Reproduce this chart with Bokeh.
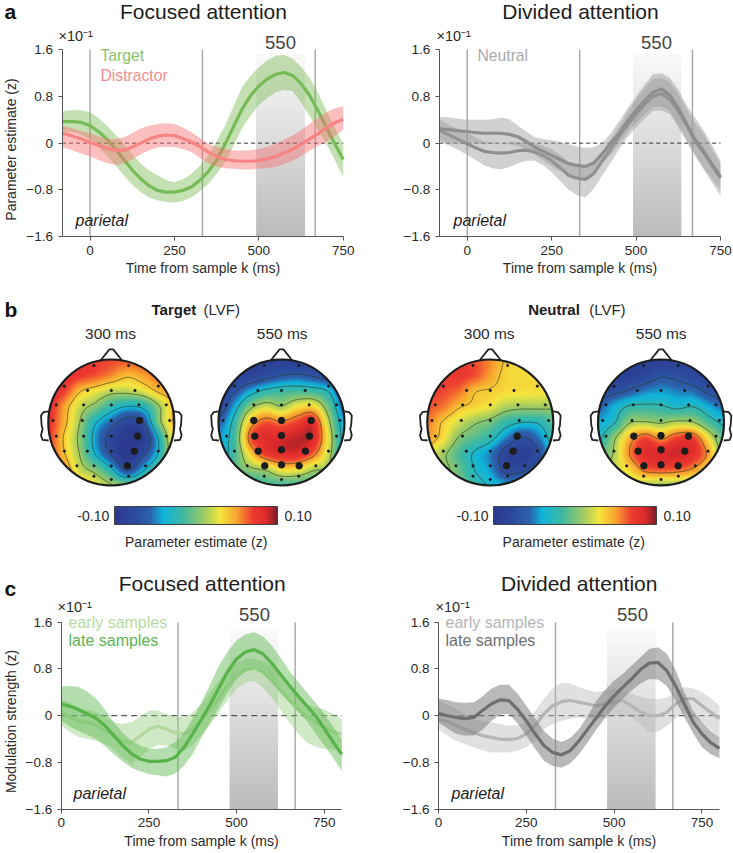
import numpy as np
from bokeh.embed import file_html
from bokeh.layouts import column, row
from bokeh.models import ColorBar, FixedTicker, Label, LinearColorMapper, Range1d
from bokeh.plotting import figure
from bokeh.resources import INLINE

# ---------- time courses ----------
A_T = [-83, -75, -50, -25, 0, 25, 50, 75, 100, 125, 150, 175, 200, 225, 250, 275, 300, 325, 350, 375, 400,
       425, 450, 475, 500, 525, 550, 575, 600, 625, 650, 675, 700, 725, 750]
C_T = [0, 25, 50, 75, 100, 125, 150, 175, 200, 225, 250, 275, 300, 325, 350, 375, 400, 425, 450, 475, 500,
       525, 550, 575, 600, 625, 650, 675, 700, 725, 750, 775, 800]

target_mean = [.38, .37, .37, .355, .3, .2, .07, -.10, -.28, -.46, -.61, -.73, -.81, -.84, -.84, -.81, -.75, -.64,
               -.49, -.29, -.02, .28, .58, .81, .98, 1.10, 1.18, 1.21, 1.16, 1.02, .82, .56, .27, -.01, -.28]
target_up = [.54, .55, .57, .56, .53, .43, .30, .15, -.01, -.19, -.35, -.47, -.55, -.63, -.67, -.62, -.53, -.39,
             -.21, .03, .30, .63, .96, 1.15, 1.30, 1.42, 1.50, 1.51, 1.45, 1.31, 1.13, .87, .56, .27, -.01]
target_lo = [.21, .2, .19, .14, .07, -.06, -.21, -.38, -.55, -.71, -.84, -.93, -.98, -1.01, -1.02, -.99, -.93, -.83,
             -.70, -.53, -.33, -.05, .25, .47, .65, .78, .87, .91, .89, .70, .47, .23, -.01, -.29, -.58]
distractor_mean = [.17, .16, .12, .07, .01, -.04, -.09, -.12, -.12, -.07, 0, .07, .12, .14, .13, .08, .02, -.06,
                   -.15, -.23, -.28, -.3, -.31, -.31, -.3, -.27, -.23, -.17, -.1, -.02, .07, .16, .26, .35, .41]
distractor_up = [.3, .29, .25, .21, .17, .12, .07, .07, .1, .17, .25, .3, .33, .34, .33, .27, .19, .09, -.01, -.06,
                 -.1, -.12, -.13, -.12, -.1, -.06, -.01, .06, .13, .22, .33, .43, .53, .6, .63]
distractor_lo = [-.07, -.08, -.13, -.18, -.23, -.29, -.34, -.37, -.35, -.28, -.19, -.12, -.07, -.06, -.07, -.1, -.15,
                 -.25, -.35, -.4, -.43, -.44, -.45, -.45, -.44, -.43, -.41, -.36, -.3, -.22, -.13, -.05, .02, .12, .23]

neutral1_mean = [.25, .24, .23, .21, .2, .18, .17, .17, .17, .15, .11, .03, -.07, -.14, -.21, -.28, -.35, -.38,
                 -.4, -.34, -.18, .0, .17, .38, .56, .73, .87, .93, .82, .6, .33, .06, -.14, -.36, -.58]
neutral1_up = [.45, .45, .44, .42, .4, .4, .4, .41, .44, .41, .3, .2, .1, .07, .05, .02, -.02, -.06, -.08, -.07,
               0, .17, .38, .6, .8, 1.0, 1.18, 1.2, 1.12, .92, .65, .43, .22, -.03, -.3]
neutral1_lo = [.05, .03, 0, 0, 0, 0, -.02, -.01, 0, -.02, -.05, -.11, -.2, -.3, -.4, -.48, -.55, -.59, -.6, -.52,
               -.35, -.2, -.02, .17, .35, .5, .62, .63, .55, .32, .05, -.2, -.42, -.62, -.8]
neutral2_mean = [.22, .2, .13, .06, -.01, -.08, -.14, -.16, -.17, -.16, -.13, -.12, -.15, -.21, -.3, -.42, -.55, -.6,
                 -.62, -.52, -.3, -.1, .12, .31, .5, .66, .8, .85, .75, .55, .3, .04, -.16, -.38, -.6]
neutral2_up = [.42, .39, .3, .24, .18, .1, .03, .01, 0, .01, .02, .02, 0, -.05, -.1, -.2, -.32, -.37, -.38, -.3,
               -.15, .07, .3, .53, .75, .94, 1.1, 1.12, 1.05, .84, .58, .35, .15, -.1, -.35]
neutral2_lo = [.02, .01, -.05, -.12, -.2, -.29, -.38, -.43, -.45, -.41, -.35, -.3, -.3, -.38, -.5, -.65, -.8, -.89,
               -.93, -.78, -.55, -.33, -.1, .1, .27, .42, .55, .56, .5, .27, .02, -.22, -.45, -.68, -.9]

foc_late = [.2, .16, .1, .03, -.05, -.17, -.34, -.51, -.65, -.74, -.78, -.78, -.77, -.71, -.54, -.31, -.06, .2, .48,
            .76, .97, 1.09, 1.13, 1.06, .9, .71, .52, .34, .17, 0, -.22, -.45, -.66]
foc_late_up = [.5, .51, .49, .41, .29, .1, -.11, -.29, -.43, -.51, -.56, -.57, -.54, -.45, -.29, -.05, .23, .54, .86,
               1.1, 1.29, 1.39, 1.43, 1.36, 1.2, 1.0, .77, .58, .4, .22, .03, -.18, -.4]
foc_late_lo = [-.09, -.19, -.26, -.33, -.4, -.52, -.66, -.78, -.89, -.95, -1.0, -1.02, -1.04, -.99, -.86, -.65, -.37,
               -.11, .14, .4, .63, .75, .8, .72, .57, .4, .23, .07, -.09, -.3, -.51, -.72, -.94]
foc_early = [.06, -.03, -.09, -.11, -.16, -.26, -.34, -.43, -.46, -.35, -.23, -.18, -.23, -.29, -.31, -.23, -.06, .11,
             .31, .53, .7, .79, .8, .74, .6, .43, .26, .11, -.01, -.11, -.21, -.28, -.31]
foc_early_up = [.29, .22, .14, .1, .06, -.02, -.11, -.14, -.11, -.02, .09, .09, .03, -.01, -.03, .06, .2, .4, .6, .78,
                .91, .97, .97, .93, .86, .68, .49, .33, .2, .14, .11, .03, -.06]
foc_early_lo = [-.17, -.28, -.37, -.4, -.43, -.48, -.57, -.72, -.83, -.72, -.57, -.5, -.51, -.56, -.6, -.5, -.34,
                -.15, .06, .27, .46, .57, .6, .48, .31, .1, -.11, -.3, -.46, -.53, -.57, -.58, -.57]

div_late = [.04, 0, -.03, -.05, -.03, .09, .2, .27, .26, .11, -.09, -.31, -.51, -.63, -.67, -.6, -.43, -.23, -.03,
            .17, .34, .49, .63, .79, .9, .91, .77, .51, .2, -.11, -.31, -.46, -.56]
div_late_up = [.29, .27, .23, .22, .23, .33, .46, .53, .53, .38, .17, -.05, -.26, -.39, -.45, -.38, -.23, 0, .26, .45,
               .6, .72, .86, 1.0, 1.14, 1.17, 1.06, .78, .4, .08, -.11, -.26, -.37]
div_late_lo = [-.11, -.22, -.31, -.34, -.34, -.24, -.09, .02, .03, -.13, -.34, -.56, -.77, -.86, -.89, -.82, -.66,
               -.45, -.23, -.03, .14, .29, .43, .55, .63, .62, .51, .25, -.03, -.3, -.54, -.66, -.73]
div_early = [-.06, -.1, -.17, -.23, -.29, -.34, -.37, -.4, -.41, -.39, -.31, -.17, .03, .17, .24, .26, .23, .2, .17,
             .2, .23, .26, .17, .06, 0, 0, .06, .2, .29, .29, .17, .06, -.05]
div_early_up = [.26, .19, .11, .03, -.06, -.09, -.11, -.14, -.17, -.16, -.09, .08, .29, .46, .57, .55, .49, .44, .4,
                .43, .46, .42, .37, .32, .29, .28, .31, .4, .49, .47, .4, .3, .17]
div_early_lo = [-.23, -.34, -.43, -.49, -.54, -.59, -.63, -.63, -.63, -.6, -.54, -.42, -.23, -.14, -.09, -.05, -.03,
                -.04, -.06, -.04, 0, -.01, -.03, -.15, -.29, -.27, -.17, -.05, .06, -.02, -.11, -.24, -.37]

# ---------- scalp maps: values read on a 9x9 lattice across the head, top row first ----------
map_target_300 = [
    [.8, .8, .75, .7, .68, .65, .65, .65, .65],
    [.85, .8, .72, .65, .55, .43, .5, .6, .6],
    [.8, .7, .42, .3, .18, .17, .25, .43, .5],
    [.78, .5, .2, .02, -.22, -.36, -.3, .07, .42],
    [.75, .46, .1, -.33, -.58, -.82, -.72, 0, .42],
    [.72, .38, .04, -.45, -.8, -1, -.95, -.33, .36],
    [.7, .42, .09, -.36, -.72, -1, -.75, -.32, .3],
    [.7, .55, .2, .02, -.3, -.72, -.4, -.05, .2],
    [.7, .6, .42, .28, .12, 0, .05, .1, .2]]
map_target_550 = [
    [-.9, -.9, -.9, -.9, -.9, -.95, -.95, -.9, -.9],
    [-.85, -.85, -.85, -.75, -.65, -.62, -.68, -.78, -.85],
    [-.85, -.68, -.42, -.25, -.18, -.15, -.18, -.32, -.75],
    [-.8, -.42, .03, .22, .12, .3, .35, -.05, -.6],
    [-.6, -.22, .42, .65, .58, .7, .8, .15, -.45],
    [-.45, -.15, .62, .82, .85, .9, .85, .25, -.4],
    [-.45, -.15, .35, .72, .82, .82, .62, .18, -.35],
    [-.4, -.1, .05, .12, .32, .3, .13, .05, -.25],
    [-.35, -.3, -.25, -.15, -.15, -.15, -.15, -.2, -.3]]
map_neutral_300 = [
    [.68, .68, .68, .66, .55, .38, .33, .32, .32],
    [.7, .7, .72, .66, .5, .35, .33, .32, .32],
    [.7, .68, .6, .42, .38, .33, .32, .32, .3],
    [.65, .58, .42, .35, .28, .14, .1, .1, .08],
    [.58, .38, .22, .08, -.02, -.2, -.3, -.28, -.1],
    [.5, .32, .03, -.1, -.23, -.5, -.72, -.55, -.2],
    [.3, .1, -.12, -.33, -.5, -.82, -.92, -.75, -.3],
    [.25, .12, -.05, -.3, -.45, -.78, -.75, -.55, -.3],
    [.2, .1, -.02, -.2, -.33, -.4, -.4, -.35, -.3]]
map_neutral_550 = [
    [-.9, -.9, -.9, -.9, -.9, -.9, -.9, -.9, -.9],
    [-.9, -.9, -.88, -.8, -.68, -.72, -.8, -.88, -.9],
    [-.75, -.72, -.62, -.5, -.45, -.5, -.55, -.7, -.8],
    [-.6, -.4, -.22, -.2, -.22, -.3, -.25, -.4, -.55],
    [-.42, -.28, .08, .12, .08, .15, .12, -.12, -.3],
    [-.3, .05, .45, .68, .52, .7, .72, .3, -.1],
    [-.1, .12, .55, .82, .85, .88, .8, .5, -.02],
    [.05, .18, .35, .6, .65, .62, .52, .3, .05],
    [.1, .15, .18, .12, .08, .1, .1, .1, .1]]

elec_x = [-.275, .275, -.746, .746, -.376, 0, .376, -.873, -.439, 0, .439, .873, -.926, -.46, 0, .46, .926,
          -.873, -.439, 0, .439, .873, -.746, -.381, 0, .381, .746, -.545, -.275, 0, .275, .545, -.275, .275, 0]
elec_y = [.905, .905, .577, .577, .508, .508, .508, .28, .28, .28, .28, .28, .032, .032, .032, .032, .032,
          -.217, -.217, -.217, -.217, -.217, -.455, -.455, -.455, -.455, -.455, -.688, -.688, -.688, -.688, -.688,
          -.852, -.852, -.905]

sig_t300_x = [.45, .418, .365, .254]
sig_t300_y = [.032, -.217, -.455, -.688]
sig_t550_x = [-.44, 0, .47, -.423, 0, .444, -.37, 0, .38, -.265, 0, .28]
sig_t550_y = [.032, .032, .032, -.217, -.207, -.217, -.455, -.434, -.455, -.688, -.672, -.688]
sig_n300_x = [.426, .362, .257]
sig_n300_y = [-.217, -.455, -.688]
sig_n550_x = [-.431, 0, .436, -.362, 0, .378, -.272, 0, .272]
sig_n550_y = [-.217, -.207, -.217, -.455, -.434, -.455, -.688, -.672, -.688]

ear_x = [-.995, -1.074, -1.116, -1.106, -1.09, -1.116, -1.09, -.995]
ear_y = [.175, .164, .11, -.048, -.1, -.206, -.275, -.286]
nose_x = [-.175, -.03, .03, .175]
nose_y = [.98, 1.16, 1.16, .98]

y_ticks = [-1.6, -0.8, 0, 0.8, 1.6]
y_tick_labels = {-1.6: "\u22121.6", -0.8: "\u22120.8", 0: "0", 0.8: "0.8", 1.6: "1.6"}
x_ticks = [0, 250, 500, 750]

FONT = "Liberation Sans"
INK = "#2a2a2a"

# colour scale of the scalp maps
stops = [(0, "#2b3a8f"), (.12, "#2c4a9e"), (.22, "#2b62ad"), (.3, "#0fb4dc"), (.42, "#3fb8a0"), (.55, "#9ecb63"),
         (.65, "#f5e63d"), (.75, "#f9a32f"), (.85, "#ee3b30"), (.93, "#de2a2b"), (1, "#7c1f2a")]
_t = np.linspace(0, 1, 256)
_pos = [s[0] for s in stops]
_rgb = np.array([[int(s[1][i:i + 2], 16) for i in (1, 3, 5)] for s in stops], float)
topo_palette = ["#%02x%02x%02x" % tuple(int(round(np.interp(t, _pos, _rgb[:, k]))) for k in range(3)) for t in _t]
topo_mapper = LinearColorMapper(palette=topo_palette, low=-1, high=1, nan_color="rgba(0,0,0,0)")
window_mapper = LinearColorMapper(
    palette=["#%02x%02x%02x" % (v, v, v) for v in np.linspace(0xbb, 0xfa, 64).astype(int)], low=0, high=1)


def put(fig, bottom, px, py, text, size, color=INK, align="center", style="normal", angle=0):
    """Text at (px, py), measured in pixels from the figure's left edge and the page's top."""
    fig.add_layout(Label(x=px, y=bottom - py, x_units="screen", y_units="screen", text=text,
                         text_font=FONT, text_font_size=f"{size}px", text_color=color, text_align=align,
                         text_baseline="middle", text_font_style=style, angle=angle, angle_units="rad"))


def panel(w, h, left, right, top, bottom, xr, xticks):
    """The frame fills the whole canvas; the axes sit at fixed data locations inside it."""
    sx = (xr[1] - xr[0]) / (w - left - right)
    sy = 3.2 / (h - top - bottom)
    p = figure(width=w, height=h, x_range=Range1d(xr[0] - left * sx, xr[1] + right * sx),
               y_range=Range1d(-1.6 - bottom * sy, 1.6 + top * sy), output_backend="svg",
               toolbar_location=None, min_border=0, background_fill_color=None,
               border_fill_color="white", outline_line_color=None)
    p.grid.visible = False
    for ax in (p.xaxis[0], p.yaxis[0]):
        ax.axis_line_color = "#555555"
        ax.major_tick_line_color = "#555555"
        ax.major_tick_in = 0
        ax.major_tick_out = 4
        ax.minor_tick_line_color = None
        ax.major_label_text_font = FONT
        ax.major_label_text_font_size = "13.5px"
        ax.major_label_text_color = INK
        ax.major_label_standoff = 5
    p.xaxis[0].fixed_location = -1.6
    p.yaxis[0].fixed_location = xr[0]
    p.xaxis[0].bounds = xr
    p.yaxis[0].bounds = (-1.6, 1.6)
    p.xaxis[0].ticker = FixedTicker(ticks=xticks)
    p.yaxis[0].ticker = FixedTicker(ticks=y_ticks)
    p.yaxis[0].major_label_overrides = y_tick_labels
    p.xaxis[0].axis_label = "Time from sample k (ms)"
    p.xaxis[0].axis_label_text_font = FONT
    p.xaxis[0].axis_label_text_font_style = "normal"
    p.xaxis[0].axis_label_text_font_size = "14px"
    p.xaxis[0].axis_label_text_color = INK
    p.xaxis[0].axis_label_standoff = 2
    return p


def window(p, t0, t1, top):
    grad = np.linspace(0, 1, 64).reshape(-1, 1)
    p.image(image=[grad], x=t0, y=-1.6, dw=t1 - t0, dh=top + 1.6, color_mapper=window_mapper)


def marks(p, xa, xb, vlines, dash):
    p.segment(x0=vlines, x1=vlines, y0=[-1.6] * len(vlines), y1=[1.6] * len(vlines),
              line_color="#a6a6a6", line_width=1.4)
    p.line([xa, xb], [0, 0], line_color="#333333", line_width=1, line_dash=dash)


def series(p, xm, m, up, lo, line, band, alpha, lw=3.2):
    p.varea(x=xm, y1=lo, y2=up, fill_color=band, fill_alpha=alpha)
    p.line(xm, m, line_color=line, line_width=lw, line_join="round")


# ---------- row a ----------
a1 = panel(366, 285, 61.5, 23.3, 49.3, 49, (-83, 750), x_ticks)
window(a1, 492, 637, 1.53)
marks(a1, -83, 750, [0, 333, 667], "4 3")
series(a1, A_T, target_mean, target_up, target_lo, "#76bb55", "#6db344", .4)
series(a1, A_T, distractor_mean, distractor_up, distractor_lo, "#f98383", "#f77272", .45)
a2 = panel(367, 285, 72.7, 13, 49.3, 49, (-83, 750), x_ticks)
window(a2, 491, 634, 1.53)
marks(a2, -83, 750, [0, 333, 667], "4 3")
series(a2, A_T, neutral2_mean, neutral2_up, neutral2_lo, "#8e8e90", "#9a9a9c", .45)
series(a2, A_T, neutral1_mean, neutral1_up, neutral1_lo, "#8e8e90", "#9a9a9c", .45)

put(a1, 285, 4, 11, "a", 21, "#111111", "left", "bold")
put(a1, 285, 203, 11, "Focused attention", 21, "#1c1c1c")
put(a1, 285, 58, 35, "\u00d710\u207b\u00b9", 14.5, align="left")
put(a1, 285, 10, 149, "Parameter estimate (z)", 14, angle=np.pi / 2)
put(a1, 285, 100, 55, "Target", 15.7, "#86c467", "left")
put(a1, 285, 100, 75, "Distractor", 15.7, "#f78d8d", "left")
put(a1, 285, 280, 42, "550", 18.5, "#444444")
put(a1, 285, 75, 220, "parietal", 16, "#1c1c1c", "left", "italic")

put(a2, 285, 214, 11, "Divided attention", 21, "#1c1c1c")
put(a2, 285, 70, 35, "\u00d710\u207b\u00b9", 14.5, align="left")
put(a2, 285, 111, 55, "Neutral", 15.7, "#aaaaaa", "left")
put(a2, 285, 290, 42, "550", 18.5, "#444444")
put(a2, 285, 87, 220, "parietal", 16, "#1c1c1c", "left", "italic")


# ---------- row b ----------
def upsample(grid, n=253):
    """Catmull-Rom resampling of the read lattice, one axis at a time."""
    def along(a):
        m = a.shape[0]
        u = np.linspace(0, m - 1, n)
        i = np.minimum(u.astype(int), m - 2)
        f = (u - i).reshape((-1,) + (1,) * (a.ndim - 1))
        p0, p1, p2, p3 = a[np.maximum(i - 1, 0)], a[i], a[i + 1], a[np.minimum(i + 2, m - 1)]
        return .5 * (2 * p1 + (p2 - p0) * f + (2 * p0 - 5 * p1 + 4 * p2 - p3) * f ** 2 + (3 * p1 - p0 - 3 * p2 + p3) * f ** 3)
    return along(along(np.array(grid, float)).T).T


R = 63


def scalp(fig, cx, cy, grid, levels, sx, sy):
    z = upsample(grid)[::-1]  # bottom row first
    gx = np.linspace(-1, 1, z.shape[1])
    gy = np.linspace(-1, 1, z.shape[0])
    xx, yy = np.meshgrid(gx, gy)
    z = np.where(xx ** 2 + yy ** 2 <= 1, z, np.nan)
    fig.image(image=[z], x=cx - R, y=cy - R, dw=2 * R, dh=2 * R, color_mapper=topo_mapper)
    fig.contour(cx + R * gx, cy + R * gy, z, levels, line_color="#2f3a20", line_width=.8, line_alpha=.85)
    for sgn in (-1, 1):
        fig.line([cx + sgn * R * v for v in ear_x], [cy + R * v for v in ear_y], line_color="#222222",
                 line_width=1.8, line_join="round")
    fig.line([cx + R * v for v in nose_x], [cy + R * v for v in nose_y], line_color="#222222", line_width=1.8,
             line_join="round")
    fig.circle(cx, cy, radius=R, fill_color=None, line_color="#1c1c1c", line_width=2.2)
    fig.scatter([cx + R * v for v in elec_x], [cy + R * v for v in elec_y], size=2.2, color="#1c1c1c")
    fig.scatter([cx + R * v for v in sx], [cy + R * v for v in sy], size=6.5, color="#1c1c1c")


def topo_row(w):
    p = figure(width=w, height=280, x_range=Range1d(0, w), y_range=Range1d(0, 280), output_backend="svg",
               toolbar_location=None, x_axis_type=None, y_axis_type=None, min_border=0,
               outline_line_color=None, background_fill_color=None)
    p.grid.visible = False
    return p


def bar(p, x):
    cb = ColorBar(color_mapper=topo_mapper, orientation="horizontal", width=163, height=18, padding=0, margin=0,
                  location=(x, 41), ticker=FixedTicker(ticks=[]), major_tick_line_color=None,
                  minor_tick_line_color=None, bar_line_color="#444444", major_label_text_font_size="0px",
                  background_fill_color=None, border_line_color=None)
    p.add_layout(cb)


b1 = topo_row(366)
scalp(b1, 110.8, 143, map_target_300, [-.7, -.35, .1, .4], sig_t300_x, sig_t300_y)
scalp(b1, 281, 143, map_target_550, [-.65, -.3, .1, .55], sig_t550_x, sig_t550_y)
bar(b1, 114)
put(b1, 565, 4, 309, "b", 21, "#111111", "left", "bold")
put(b1, 565, 151, 309, "Target", 15, "#1c1c1c", "left", "bold")
put(b1, 565, 203, 309, "(LVF)", 15, align="left")
put(b1, 565, 110, 332.5, "300 ms", 15.5)
put(b1, 565, 281.7, 332.5, "550 ms", 15.5)
put(b1, 565, 108.7, 515, "-0.10", 14, align="right")
put(b1, 565, 284, 515, "0.10", 14, align="left")
put(b1, 565, 195.7, 541.7, "Parameter estimate (z)", 14)

b2 = topo_row(367)
scalp(b2, 123.8, 143, map_neutral_300, [-.7, -.3, .05, .4], sig_n300_x, sig_n300_y)
scalp(b2, 294.5, 143, map_neutral_550, [-.65, -.25, .1, .55], sig_n550_x, sig_n550_y)
bar(b2, 127)
put(b2, 565, 161.7, 309, "Neutral", 15, "#1c1c1c", "left", "bold")
put(b2, 565, 222.7, 309, "(LVF)", 15, align="left")
put(b2, 565, 122.7, 332.5, "300 ms", 15.5)
put(b2, 565, 294.7, 332.5, "550 ms", 15.5)
put(b2, 565, 122, 515, "-0.10", 14, align="right")
put(b2, 565, 297, 515, "0.10", 14, align="left")
put(b2, 565, 207.3, 541.7, "Parameter estimate (z)", 14)

# ---------- row c ----------
c1 = panel(366, 288, 60.7, 24.7, 56.7, 44.3, (0, 800), x_ticks)
window(c1, 480, 618, 1.49)
marks(c1, 0, 800, [333, 667], "6 4")
series(c1, C_T, foc_early, foc_early_up, foc_early_lo, "#b3d9a0", "#8ccb78", .42)
series(c1, C_T, foc_late, foc_late_up, foc_late_lo, "#57b34a", "#62b955", .48)
c2 = panel(367, 288, 72, 14, 56.7, 44.3, (0, 800), x_ticks)
window(c2, 480, 618, 1.49)
marks(c2, 0, 800, [333, 667], "6 4")
series(c2, C_T, div_early, div_early_up, div_early_lo, "#b5b5b8", "#b4b4b6", .42)
series(c2, C_T, div_late, div_late_up, div_late_lo, "#6f6f72", "#7f7f82", .55)

put(c1, 853, 4, 588, "c", 21, "#111111", "left", "bold")
put(c1, 853, 201.7, 583, "Focused attention", 21, "#1c1c1c")
put(c1, 853, 57, 606, "\u00d710\u207b\u00b9", 14.5, align="left")
put(c1, 853, 10, 721, "Modulation strength (z)", 14, angle=np.pi / 2)
put(c1, 853, 68, 622, "early samples", 16, "#b5dca0", "left")
put(c1, 853, 68, 640, "late samples", 16, "#5ab556", "left")
put(c1, 853, 254, 614, "550", 18.5, "#444444")
put(c1, 853, 73, 793, "parietal", 16, "#1c1c1c", "left", "italic")

put(c2, 853, 212.7, 583, "Divided attention", 21, "#1c1c1c")
put(c2, 853, 69, 606, "\u00d710\u207b\u00b9", 14.5, align="left")
put(c2, 853, 79, 622, "early samples", 16, "#b5b5b8", "left")
put(c2, 853, 79, 640, "late samples", 16, "#6f6f72", "left")
put(c2, 853, 266, 614, "550", 18.5, "#444444")
put(c2, 853, 85, 793, "parietal", 16, "#1c1c1c", "left", "italic")

page = column(row(a1, a2), row(b1, b2), row(c1, c2))
open("out.html", "w").write(file_html(page, INLINE))
